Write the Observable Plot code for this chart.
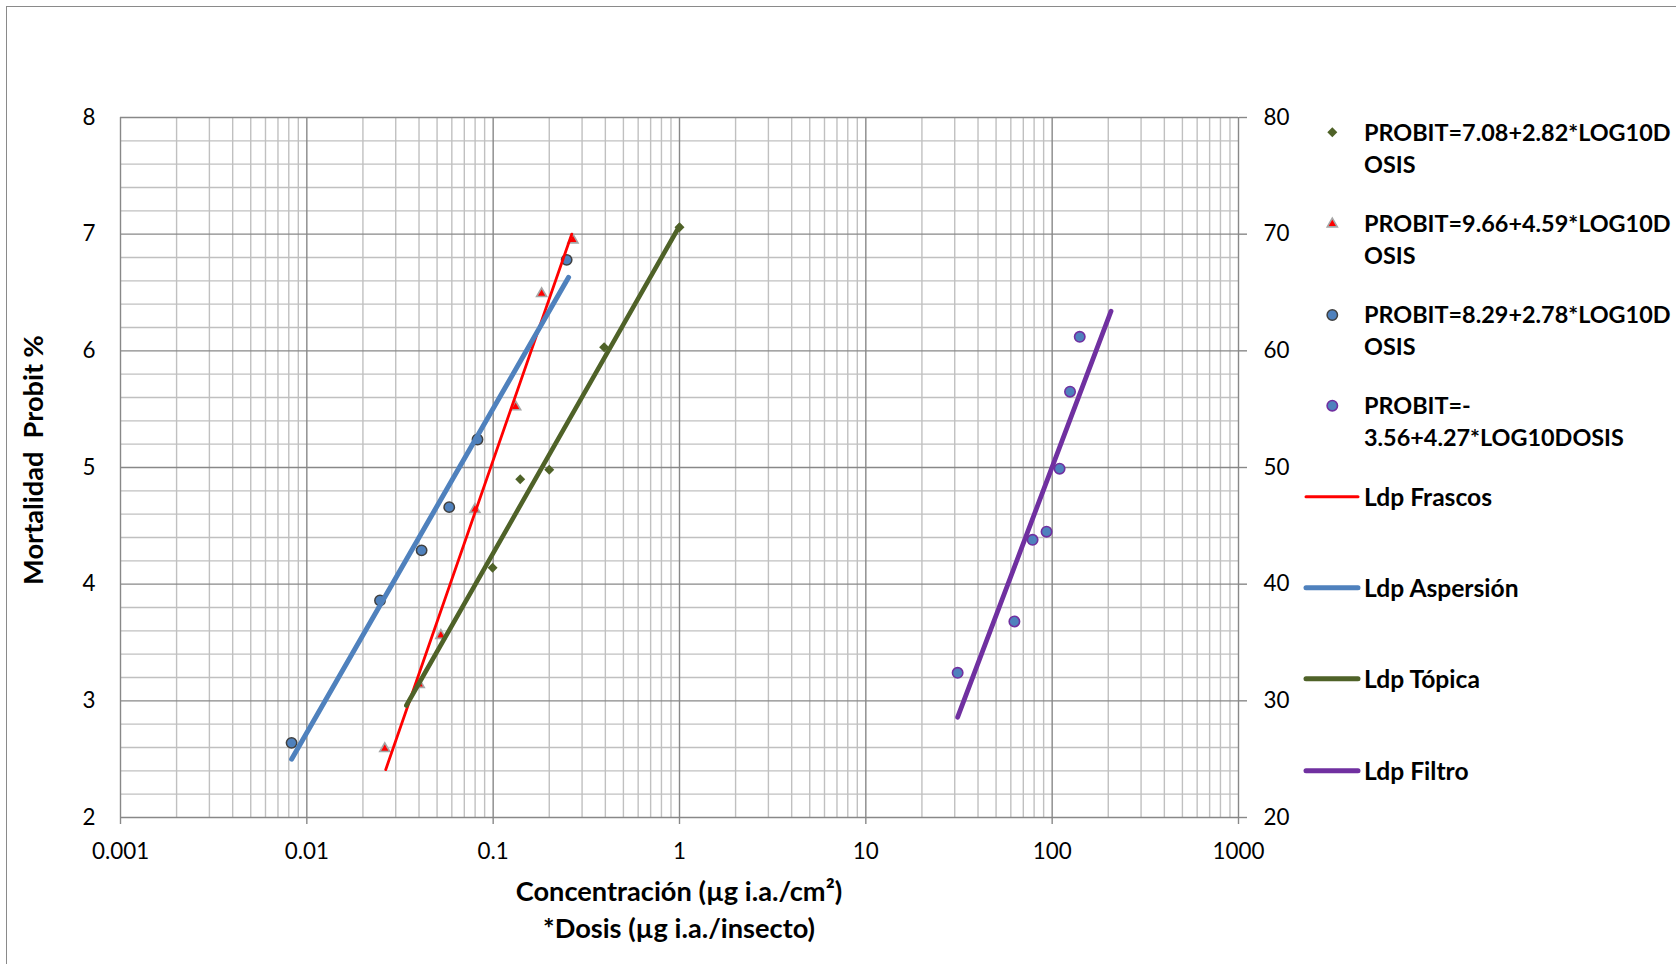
<!DOCTYPE html>
<html>
<head>
<meta charset="utf-8">
<script src="https://cdn.jsdelivr.net/npm/d3@7"></script>
<script src="https://cdn.jsdelivr.net/npm/@observablehq/plot@0.6"></script>
<style>
  html, body { margin: 0; padding: 0; background: #fff; overflow: hidden; }
  #wrap { position: relative; width: 1676px; height: 964px; overflow: hidden; }
  #border { position: absolute; left: 6px; top: 6px; width: 3000px; height: 3000px;
            border-left: 1.5px solid #8a8a8a; border-top: 1.5px solid #8a8a8a; box-sizing: border-box; }
  #chart { position: absolute; left: 0; top: 0; }
  #overlay { position: absolute; left: 0; top: 0; }
</style>
</head>
<body>
<div id="wrap">
  <div id="border"></div>
  <div id="chart"></div>
  <svg id="overlay" width="1676" height="964"></svg>
</div>
<script>
// ---------------- data ----------------
// Scatter series (dose, probit)
const topicaX = [0.0993, 0.1397, 0.2, 0.394, 1.0];
const topicaY = [4.14, 4.90, 4.98, 6.03, 7.06];

const frascosX = [0.0262, 0.0401, 0.0524, 0.0798, 0.132, 0.182, 0.268];
const frascosY = [2.59, 3.14, 3.56, 4.64, 5.52, 6.49, 6.95];

const aspersionX = [0.00828, 0.0247, 0.0413, 0.0581, 0.0824, 0.248];
const aspersionY = [2.64, 3.86, 4.29, 4.66, 5.24, 6.78];

const filtroX = [31.1, 62.7, 78.5, 93.3, 109.6, 124.7, 140.6];
const filtroY = [3.24, 3.68, 4.38, 4.45, 4.99, 5.65, 6.12];

// Fitted lines (Ldp) endpoints
const ldpFrascosX = [0.0265, 0.264];
const ldpFrascosY = [2.41, 7.00];
const ldpAspersionX = [0.00828, 0.254];
const ldpAspersionY = [2.50, 6.63];
const ldpTopicaX = [0.0342, 1.0];
const ldpTopicaY = [2.96, 7.07];
const ldpFiltroX = [31.1, 207];
const ldpFiltroY = [2.86, 6.34];

// Ticks
const xTickValues = [0.001, 0.01, 0.1, 1, 10, 100, 1000];
const xTickLabels = ["0.001", "0.01", "0.1", "1", "10", "100", "1000"];
const yTickValues = [2, 3, 4, 5, 6, 7, 8];
const yRightLabels = ["20", "30", "40", "50", "60", "70", "80"];

// Legend texts
const legendMarkerLines = [
  ["PROBIT=7.08+2.82*LOG10D", "OSIS"],
  ["PROBIT=9.66+4.59*LOG10D", "OSIS"],
  ["PROBIT=8.29+2.78*LOG10D", "OSIS"],
  ["PROBIT=-", "3.56+4.27*LOG10DOSIS"]
];
const legendLineLabels = ["Ldp Frascos", "Ldp Aspersión", "Ldp Tópica", "Ldp Filtro"];
const xTitleLines = ["Concentración (µg i.a./cm²)", "*Dosis (µg i.a./insecto)"];
const yTitle = "Mortalidad  Probit %";

// ---------------- styles ----------------
const cGreen = "#4F6228", cRed = "#FF0000", cBlue = "#4F81BD", cPurple = "#7030A0";
const FONT = "Lato, 'Open Sans', 'Noto Sans', sans-serif";

const zip = (xs, ys) => xs.map((x, i) => ({x, y: ys[i]}));

// gridlines derived from tick values
const xMinor = [];
for (let k = 0; k < xTickValues.length - 1; k++)
  for (let m = 2; m <= 9; m++) xMinor.push(m * xTickValues[k]);
const yMinor = [];
for (let k = 0; k < yTickValues.length - 1; k++)
  for (let m = 1; m <= 4; m++) yMinor.push(yTickValues[k] + m * 0.2);

const gridMinor = "#c0c0c0", gridMajor = "#888888";

const chart = Plot.plot({
  width: 1676,
  height: 964,
  marginLeft: 120,
  marginRight: 438,
  marginTop: 117,
  marginBottom: 147,
  style: {fontFamily: FONT, fontSize: "22.4px", color: "#000", background: "transparent"},
  x: {type: "log", domain: [0.001, 1000]},
  y: {domain: [2, 8]},
  marks: [
    Plot.ruleX(xMinor, {stroke: gridMinor, strokeWidth: 1.4}),
    Plot.ruleY(yMinor, {stroke: gridMinor, strokeWidth: 1.4}),
    Plot.ruleX(xTickValues, {stroke: gridMajor, strokeWidth: 1.4}),
    Plot.ruleY(yTickValues, {stroke: gridMajor, strokeWidth: 1.4}),
    Plot.axisX({ticks: xTickValues, tickFormat: d => xTickLabels[xTickValues.indexOf(d)],
      tickSize: 7, tickPadding: 19, stroke: gridMajor, fill: "#000", strokeWidth: 1.4, label: null}),
    Plot.axisY({anchor: "left", ticks: yTickValues, tickFormat: d => String(d),
      tickSize: 0, tickPadding: 25, fill: "#000", label: null}),
    Plot.axisY({anchor: "right", ticks: yTickValues, tickFormat: d => yRightLabels[yTickValues.indexOf(d)],
      tickSize: 8, tickPadding: 17, stroke: gridMajor, fill: "#000", strokeWidth: 1.4, label: null}),
    // markers
    Plot.dot(zip(topicaX, topicaY), {x: "x", y: "y", symbol: "diamond2", r: 4.5, fill: cGreen, stroke: null}),
    Plot.dot(zip(frascosX, frascosY), {x: "x", y: "y", symbol: "triangle2", r: 4.8, fill: cRed, stroke: "#A6A6A6", strokeWidth: 1.6}),
    Plot.dot(zip(aspersionX, aspersionY), {x: "x", y: "y", symbol: "circle", r: 5.2, fill: cBlue, stroke: "#404040", strokeWidth: 1.5}),
    Plot.dot(zip(filtroX, filtroY), {x: "x", y: "y", symbol: "circle", r: 5.2, fill: cBlue, stroke: cPurple, strokeWidth: 1.6}),
    // fitted lines
    Plot.line(zip(ldpFrascosX, ldpFrascosY), {x: "x", y: "y", stroke: cRed, strokeWidth: 2.8, strokeLinecap: "round"}),
    Plot.line(zip(ldpAspersionX, ldpAspersionY), {x: "x", y: "y", stroke: cBlue, strokeWidth: 5, strokeLinecap: "round"}),
    Plot.line(zip(ldpTopicaX, ldpTopicaY), {x: "x", y: "y", stroke: cGreen, strokeWidth: 4.6, strokeLinecap: "round"}),
    Plot.line(zip(ldpFiltroX, ldpFiltroY), {x: "x", y: "y", stroke: cPurple, strokeWidth: 4.8, strokeLinecap: "round"})
  ]
});
document.getElementById("chart").appendChild(chart);

// ---------------- overlay: titles + legend ----------------
const ov = d3.select("#overlay").style("font-family", FONT);

// x title
const xTitleBaselines = [901, 937.5];
xTitleLines.forEach((t, i) => {
  ov.append("text").attr("x", 679).attr("y", xTitleBaselines[i])
    .attr("text-anchor", "middle").attr("font-weight", 700).attr("font-size", 27.2)
    .attr("fill", "#000").text(t);
});
// y title
ov.append("text").attr("transform", "translate(43,460) rotate(-90)")
  .attr("text-anchor", "middle").attr("font-weight", 700).attr("font-size", 27.2)
  .attr("fill", "#000").style("white-space", "pre").attr("xml:space", "preserve").text(yTitle);

// legend markers
const legX = 1332.3, legTextX = 1364;
const markerCenters = [132.3, 224, 315, 405.7];
const markerStyles = [
  {sym: d3.symbolDiamond2, r: 4.5, fill: cGreen, stroke: "none", sw: 0},
  {sym: d3.symbolTriangle2, r: 4.8, fill: cRed, stroke: "#A6A6A6", sw: 1.6},
  {sym: d3.symbolCircle, r: 5.2, fill: cBlue, stroke: "#404040", sw: 1.5},
  {sym: d3.symbolCircle, r: 5.2, fill: cBlue, stroke: cPurple, sw: 1.6}
];
const legFont = 23.4, legLine = 31.8, capOff = 8.4;
legendMarkerLines.forEach((lines, i) => {
  const s = markerStyles[i];
  ov.append("path").attr("transform", `translate(${legX},${markerCenters[i]})`)
    .attr("d", d3.symbol(s.sym, Math.PI * s.r * s.r)())
    .attr("fill", s.fill).attr("stroke", s.stroke).attr("stroke-width", s.sw);
  lines.forEach((t, j) => {
    ov.append("text").attr("x", legTextX).attr("y", markerCenters[i] + capOff + j * legLine)
      .attr("font-weight", 700).attr("font-size", legFont).attr("fill", "#000").text(t);
  });
});
// legend lines
const lineCenters = [496.7, 587.7, 678.7, 770.7];
const lineStyles = [
  {c: cRed, w: 3}, {c: cBlue, w: 5}, {c: cGreen, w: 5}, {c: cPurple, w: 5}
];
legendLineLabels.forEach((t, i) => {
  ov.append("line").attr("x1", 1306).attr("x2", 1358).attr("y1", lineCenters[i]).attr("y2", lineCenters[i])
    .attr("stroke", lineStyles[i].c).attr("stroke-width", lineStyles[i].w).attr("stroke-linecap", "round");
  ov.append("text").attr("x", legTextX).attr("y", lineCenters[i] + capOff + 0.4)
    .attr("font-weight", 700).attr("font-size", 24.6).attr("fill", "#000").text(t);
});
</script>
</body>
</html>
